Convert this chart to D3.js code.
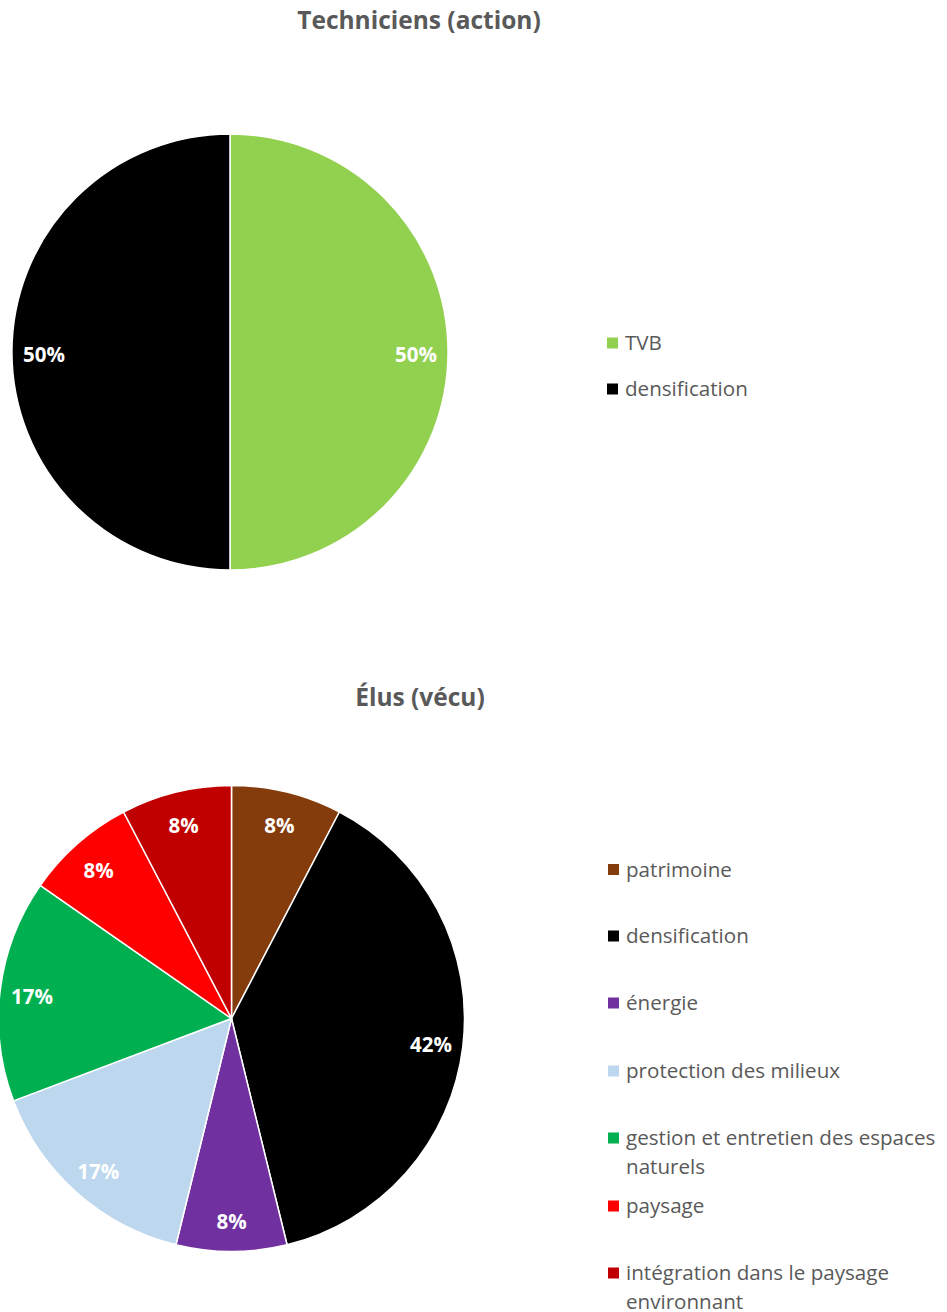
<!DOCTYPE html>
<html>
<head>
<meta charset="utf-8">
<script src="https://cdn.jsdelivr.net/npm/d3@7"></script>
<style>
  html, body { margin: 0; padding: 0; background: #fff; }
  svg { display: block; font-family: "Open Sans", sans-serif; }
</style>
</head>
<body>
<svg id="chart" width="947" height="1312"></svg>
<script>
// ---- Data ----
const title1 = "Techniciens (action)";
const categories1 = ["TVB", "densification"];
const values1 = [50, 50];
const colors1 = ["#92D050", "#000000"];

const title2 = "Élus (vécu)";
const categories2 = ["patrimoine", "densification", "énergie", "protection des milieux",
  "gestion et entretien des espaces naturels", "paysage", "intégration dans le paysage environnant"];
const legendLines2 = [["patrimoine"], ["densification"], ["énergie"], ["protection des milieux"],
  ["gestion et entretien des espaces", "naturels"], ["paysage"], ["intégration dans le paysage", "environnant"]];
const values2 = [8.3, 41.7, 8.3, 16.7, 16.7, 8.3, 8.3];
const labels2 = ["8%", "42%", "8%", "17%", "17%", "8%", "8%"];
const colors2 = ["#843C0C", "#000000", "#7030A0", "#BDD7EE", "#00B050", "#FF0000", "#C00000"];

const svg = d3.select("#chart");
const textGray = "#595959";

function drawPie(opts) {
  const g = svg.append("g").attr("transform", `translate(${opts.cx},${opts.cy})`);
  const pie = d3.pie().sort(null).value(d => d.v);
  const arcs = pie(opts.values.map((v, i) => ({ v, i })));
  const arc = d3.arc().innerRadius(0).outerRadius(opts.r);
  const labelArc = d3.arc().innerRadius(opts.r - 32).outerRadius(opts.r - 32);
  g.selectAll("path").data(arcs).join("path")
    .attr("d", arc)
    .attr("fill", d => opts.colors[d.data.i])
    .attr("stroke", "#fff")
    .attr("stroke-width", 1.5)
    .attr("stroke-linejoin", "round");
  g.selectAll("text").data(arcs).join("text")
    .attr("transform", d => `translate(${labelArc.centroid(d)})`)
    .attr("text-anchor", "middle")
    .attr("dy", "0.48em")
    .attr("fill", "#fff")
    .attr("font-weight", "bold")
    .attr("font-size", 20.5)
    .text(d => opts.labels[d.data.i]);

  svg.append("text")
    .attr("x", opts.titleX).attr("y", opts.titleY)
    .attr("text-anchor", "middle")
    .attr("font-weight", "bold")
    .attr("font-size", 24.5)
    .attr("fill", textGray)
    .text(opts.title);

  const lg = svg.append("g");
  opts.legendLines.forEach((lines, i) => {
    const y = opts.legendYs[i];
    lg.append("rect")
      .attr("x", opts.legendX).attr("y", y - 5.5)
      .attr("width", 11).attr("height", 11)
      .attr("fill", opts.colors[i]);
    const t = lg.append("text")
      .attr("x", opts.legendX + 18).attr("y", y)
      .attr("font-size", 20.6)
      .attr("fill", textGray);
    lines.forEach((ln, j) => {
      t.append("tspan").attr("x", opts.legendX + 18).attr("dy", j === 0 ? "0.36em" : 28.5).text(ln);
    });
  });
}

drawPie({
  cx: 230, cy: 352, r: 218,
  values: values1, colors: colors1,
  labels: values1.map(v => v + "%"),
  title: title1, titleX: 419, titleY: 29,
  legendLines: categories1.map(c => [c]),
  legendX: 607, legendYs: [343, 389]
});

drawPie({
  cx: 231.5, cy: 1018.5, r: 233,
  values: values2, colors: colors2,
  labels: labels2,
  title: title2, titleX: 420, titleY: 706,
  legendLines: legendLines2,
  legendX: 608, legendYs: [869.5, 936, 1003, 1071, 1138, 1206, 1273]
});
</script>
</body>
</html>
